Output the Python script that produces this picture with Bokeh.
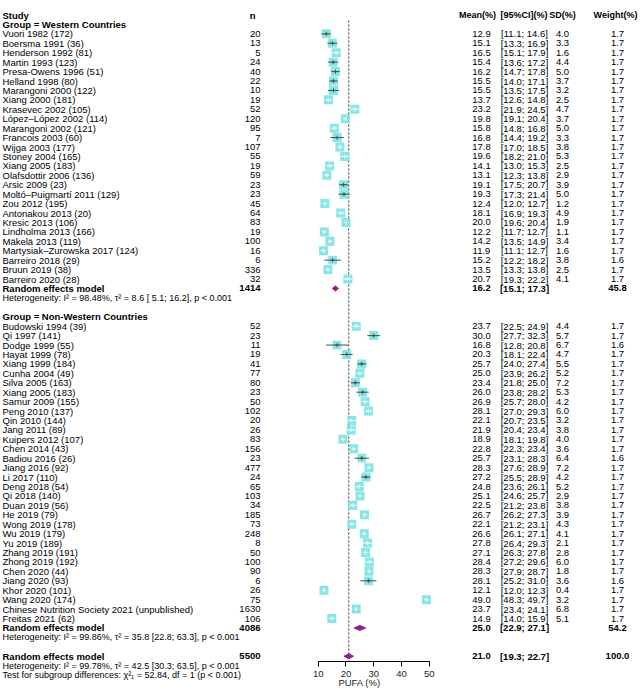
import math
from bokeh.plotting import figure
from bokeh.models import Range1d, FixedTicker, ColumnDataSource
from bokeh.layouts import row
from bokeh.embed import file_html
from bokeh.resources import INLINE
from bokeh.core.properties import value

# ---------------- data ----------------
west_study = ["Vuori 1982 (172)", "Boersma 1991 (36)", "Henderson 1992 (81)", "Martin 1993 (123)",
              "Presa-Owens 1996 (51)", "Helland 1998 (80)", "Marangoni 2000 (122)", "Xiang 2000 (181)",
              "Krasevec 2002 (105)", "López–López 2002 (114)", "Marangoni 2002 (121)", "Francois 2003 (60)",
              "Wijga 2003 (177)", "Stoney 2004 (165)", "Xiang 2005 (183)", "Olafsdottir 2006 (136)",
              "Arsic 2009 (23)", "Moltó–Puigmartí 2011 (129)", "Zou 2012 (195)", "Antonakou 2013 (20)",
              "Kresic 2013 (106)", "Lindholma 2013 (166)", "Mäkelä 2013 (119)",
              "Martysiak–Zurowska 2017 (124)", "Barreiro 2018 (29)", "Bruun 2019 (38)", "Barreiro 2020 (28)"]
west_n = [20, 13, 5, 24, 40, 22, 10, 19, 52, 120, 95, 7, 107, 55, 19, 59, 23, 23, 45, 64, 83, 19, 100, 16, 6, 336, 32]
west_mean = [12.9, 15.1, 16.5, 15.4, 16.2, 15.5, 15.5, 13.7, 23.2, 19.8, 15.8, 16.8, 17.8, 19.6, 14.1, 13.1,
             19.1, 19.3, 12.4, 18.1, 20.0, 12.2, 14.2, 11.9, 15.2, 13.5, 20.7]
west_lo = [11.1, 13.3, 15.1, 13.6, 14.7, 14.0, 13.5, 12.6, 21.9, 19.1, 14.8, 14.4, 17.0, 18.2, 13.0, 12.3,
           17.5, 17.3, 12.0, 16.9, 19.6, 11.7, 13.5, 11.1, 12.2, 13.3, 19.3]
west_hi = [14.6, 16.9, 17.9, 17.2, 17.8, 17.1, 17.5, 14.8, 24.5, 20.4, 16.8, 19.2, 18.5, 21.0, 15.3, 13.8,
           20.7, 21.4, 12.7, 19.3, 20.4, 12.7, 14.9, 12.7, 18.2, 13.8, 22.2]
west_sd = [4.0, 3.3, 1.6, 4.4, 5.0, 3.7, 3.2, 2.5, 4.7, 3.7, 5.0, 3.3, 3.8, 5.3, 2.5, 2.9,
           3.9, 5.0, 1.2, 4.9, 1.9, 1.1, 3.4, 1.6, 3.8, 2.5, 4.1]
west_weight = [1.7, 1.7, 1.7, 1.7, 1.7, 1.7, 1.7, 1.7, 1.7, 1.7, 1.7, 1.7, 1.7, 1.7, 1.7, 1.7,
               1.7, 1.7, 1.7, 1.7, 1.7, 1.7, 1.7, 1.7, 1.6, 1.7, 1.7]
west_pooled = [1414, 16.2, 15.1, 17.3, 45.8]   # n, mean, lo, hi, weight
west_het = "Heterogeneity: I² = 98.48%, τ² = 8.6 [ 5.1; 16.2], p < 0.001"

nonwest_study = ["Budowski 1994 (39)", "Qi 1997 (141)", "Dodge 1999 (55)", "Hayat 1999 (78)", "Xiang 1999 (184)",
                 "Cunha 2004 (49)", "Silva 2005 (163)", "Xiang 2005 (183)", "Samur 2009 (155)", "Peng 2010 (137)",
                 "Qin 2010 (144)", "Jang 2011 (89)", "Kuipers 2012 (107)", "Chen 2014 (43)", "Badiou 2016 (26)",
                 "Jiang 2016 (92)", "Li 2017 (110)", "Deng 2018 (54)", "Qi 2018 (140)", "Duan 2019 (56)",
                 "He 2019 (79)", "Wong 2019 (178)", "Wu 2019 (179)", "Yu 2019 (189)", "Zhang 2019 (191)",
                 "Zhong 2019 (192)", "Chen 2020 (44)", "Jiang 2020 (93)", "Khor 2020 (101)", "Wang 2020 (174)",
                 "Chinese Nutrition Society 2021 (unpublished)", "Freitas 2021 (62)"]
nonwest_n = [52, 23, 11, 19, 41, 77, 80, 23, 50, 102, 20, 26, 83, 156, 23, 477, 24, 65, 103, 34,
             185, 73, 248, 8, 50, 100, 90, 6, 26, 75, 1630, 106]
nonwest_mean = [23.7, 30.0, 16.8, 20.3, 25.7, 25.0, 23.4, 26.0, 26.9, 28.1, 22.1, 21.9, 18.9, 22.8, 25.7,
                28.3, 27.2, 24.8, 25.1, 22.5, 26.7, 22.1, 26.6, 27.8, 27.1, 28.4, 28.3, 28.1, 12.1, 49.0, 23.7, 14.9]
nonwest_lo = [22.5, 27.7, 12.8, 18.1, 24.0, 23.9, 21.8, 23.8, 25.7, 27.0, 20.7, 20.4, 18.1, 22.3, 23.1,
              27.6, 25.5, 23.6, 24.6, 21.2, 26.2, 21.2, 26.1, 26.4, 26.3, 27.2, 27.9, 25.2, 12.0, 48.3, 23.4, 14.0]
nonwest_hi = [24.9, 32.3, 20.8, 22.4, 27.4, 26.2, 25.0, 28.2, 28.0, 29.3, 23.5, 23.4, 19.8, 23.4, 28.3,
              28.9, 28.9, 26.1, 25.7, 23.8, 27.3, 23.1, 27.1, 29.3, 27.8, 29.6, 28.7, 31.0, 12.3, 49.7, 24.1, 15.9]
nonwest_sd = [4.4, 5.7, 6.7, 4.7, 5.5, 5.2, 7.2, 5.3, 4.2, 6.0, 3.2, 3.8, 4.0, 3.6, 6.4,
              7.2, 4.2, 5.2, 2.9, 3.8, 3.9, 4.3, 4.1, 2.1, 2.8, 6.0, 1.8, 3.6, 0.4, 3.2, 6.8, 5.1]
nonwest_weight = [1.7, 1.7, 1.6, 1.7, 1.7, 1.7, 1.7, 1.7, 1.7, 1.7, 1.7, 1.7, 1.7, 1.7, 1.6,
                  1.7, 1.7, 1.7, 1.7, 1.7, 1.7, 1.7, 1.7, 1.7, 1.7, 1.7, 1.7, 1.6, 1.7, 1.7, 1.7, 1.7]
nonwest_pooled = [4086, 25.0, 22.9, 27.1, 54.2]
nonwest_het = "Heterogeneity: I² = 99.86%, τ² = 35.8 [22.8; 63.3], p < 0.001"

overall_pooled = [5500, 21.0, 19.3, 22.7, 100.0]
overall_het = "Heterogeneity: I² = 99.78%, τ² = 42.5 [30.3; 63.5], p < 0.001"
subgroup_test = "Test for subgroup differences: χ²₁ = 52.84, df = 1 (p < 0.001)"

group_labels = ["Group = Western Countries", "Group = Non-Western Countries"]
headers = ["Study", "n", "Mean(%)", "[95%CI](%)", "SD(%)", "Weight(%)"]
x_ticks = [10, 20, 30, 40, 50]
x_title = "PUFA (%)"

# ---------------- layout constants ----------------
FONT = "Liberation Sans"
FS = "9.5px"
HFS = "9px"
PITCH = 9.43         # px per row
TOP = 14.5           # px of row 0 from top
H = 691
MID_FRAME_H = 661
Y_TOP = -TOP / PITCH
Y_BOT_FULL = (H - TOP) / PITCH
Y_BOT_MID = (MID_FRAME_H - TOP) / PITCH

PXU = 2.775          # px per % unit on the forest axis
X10 = 317.7          # screen x of value 10
L0, L1 = 0, 265      # left text panel (screen coords)
M0, M1 = 265, 453    # forest panel
R0, R1 = 453, 640    # right text panel
SQ = 9               # square size px

SQ_COLOR = "#7FE6E4"
DIA_COLOR = "#931E8C"
LINE_COLOR = "#4d4d4d"

# ---------------- row assignment ----------------
r = 0
header_row = r; r += 1
grp_w_row = r; r += 1
w_rows = list(range(r, r + len(west_study))); r += len(west_study)
re_w_row = r; r += 1
het_w_row = r; r += 2
grp_nw_row = r; r += 1
nw_rows = list(range(r, r + len(nonwest_study))); r += len(nonwest_study)
re_nw_row = r; r += 1
het_nw_row = r; r += 2
re_all_row = r; r += 1
het_all_row = r; r += 1
test_row = r


def txt(p, xs, ys, texts, align="left", bold=False, size=FS):
    src = ColumnDataSource(dict(x=list(xs), y=list(ys), t=list(texts)))
    p.text(x="x", y="y", text="t", source=src, text_font=value(FONT), text_font_size=value(size),
           text_align=align, text_baseline="middle", text_font_style="bold" if bold else "normal",
           text_color="black")


def text_fig(x0, x1):
    p = figure(frame_width=x1 - x0, frame_height=H, x_range=Range1d(x0, x1),
               y_range=Range1d(Y_BOT_FULL, Y_TOP), output_backend="svg", toolbar_location=None,
               x_axis_type=None, y_axis_type=None, min_border=0)
    p.outline_line_color = None
    return p


# ---------------- left panel ----------------
left = text_fig(L0, L1)
XS = 2
XN = 260
txt(left, [XS], [header_row], [headers[0]], bold=True)
txt(left, [255], [header_row], [headers[1]], align="right", bold=True)
txt(left, [XS, XS], [grp_w_row, grp_nw_row], group_labels, bold=True)
txt(left, [XS] * len(west_study), w_rows, west_study)
txt(left, [XN] * len(west_n), w_rows, [str(v) for v in west_n], align="right")
txt(left, [XS] * len(nonwest_study), nw_rows, nonwest_study)
txt(left, [XN] * len(nonwest_n), nw_rows, [str(v) for v in nonwest_n], align="right")
txt(left, [XS] * 3, [re_w_row, re_nw_row, re_all_row], ["Random effects model"] * 3, bold=True)
txt(left, [XN] * 3, [re_w_row, re_nw_row, re_all_row],
    [str(west_pooled[0]), str(nonwest_pooled[0]), str(overall_pooled[0])], align="right", bold=True)
txt(left, [XS] * 4, [het_w_row, het_nw_row, het_all_row, test_row],
    [west_het, nonwest_het, overall_het, subgroup_test], size=HFS)

# ---------------- forest panel ----------------
xa = 10 + (M0 - X10) / PXU
xb = 10 + (M1 - X10) / PXU
mid = figure(frame_width=M1 - M0, frame_height=MID_FRAME_H, x_range=Range1d(xa, xb),
             y_range=Range1d(Y_BOT_MID, Y_TOP), output_backend="svg", toolbar_location=None,
             y_axis_type=None, min_border=0)
mid.outline_line_color = None
mid.grid.visible = False
ax = mid.xaxis[0]
ax.ticker = FixedTicker(ticks=x_ticks)
ax.bounds = (x_ticks[0], x_ticks[-1])
ax.axis_line_color = "black"
ax.major_tick_line_color = "black"
ax.major_tick_out = 5
ax.major_tick_in = 0
ax.minor_tick_line_color = None
ax.major_label_standoff = 4
ax.major_label_text_font = FONT
ax.major_label_text_font_size = FS
ax.major_label_text_color = "#222222"
ax.axis_label = x_title
ax.axis_label_text_font = FONT
ax.axis_label_text_font_size = FS
ax.axis_label_text_font_style = "normal"
ax.axis_label_text_color = "#222222"
ax.axis_label_standoff = -3

# reference line at overall mean
mid.segment(x0=[overall_pooled[1]], y0=[grp_w_row - 0.42], x1=[overall_pooled[1]], y1=[Y_BOT_MID],
            line_color="#333333", line_width=1, line_dash="2 2")

all_mean = west_mean + nonwest_mean
all_lo = west_lo + nonwest_lo
all_hi = west_hi + nonwest_hi
all_w = west_weight + nonwest_weight
all_rows = w_rows + nw_rows
half = SQ / 2.0 / PXU
line_cols = ["white" if (m - lo) <= half * 0.95 and (hi - m) <= half * 0.95 else LINE_COLOR
             for m, lo, hi in zip(all_mean, all_lo, all_hi)]
sizes = [SQ * math.sqrt(w / 1.7) for w in all_w]
src = ColumnDataSource(dict(m=all_mean, lo=all_lo, hi=all_hi, y=all_rows, c=line_cols, s=sizes))
mid.scatter(x="m", y="y", size="s", marker="square", source=src, fill_color=SQ_COLOR,
            line_color=None, fill_alpha=0.95)
mid.segment(x0="lo", y0="y", x1="hi", y1="y", line_color="c", line_width=1, source=src)
mid.scatter(x="m", y="y", size=4, marker="cross", line_color="c", line_width=1, source=src)

dh = 0.27
pooled = [west_pooled, nonwest_pooled, overall_pooled]
prow = [re_w_row, re_nw_row, re_all_row]
dxs = [[p[2], p[1], p[3], p[1]] for p in pooled]
dys = [[y, y - dh, y, y + dh] for y in prow]
mid.patches(xs=dxs, ys=dys, fill_color=DIA_COLOR, line_color=DIA_COLOR, line_width=1)

# ---------------- right panel ----------------
right = text_fig(R0, R1)
txt(right, [477, 523.5, 562, 615], [header_row] * 4, headers[2:], align="center", bold=True, size="9px")
XM, XC, XSD, XW = 481, 524, 562, 617


def ci(lo, hi):
    return "[%4.1f; %4.1f]" % (lo, hi)


txt(right, [XM] * len(all_rows), all_rows, ["%.1f" % v for v in all_mean], align="center")
txt(right, [XC] * len(all_rows), all_rows, [ci(a, b) for a, b in zip(all_lo, all_hi)], align="center")
txt(right, [XSD] * len(all_rows), all_rows, ["%.1f" % v for v in west_sd + nonwest_sd], align="center")
txt(right, [XW] * len(all_rows), all_rows, ["%.1f" % v for v in all_w], align="center")
txt(right, [XM] * 3, prow, ["%.1f" % p[1] for p in pooled], align="center", bold=True)
txt(right, [XC] * 3, prow, [ci(p[2], p[3]) for p in pooled], align="center", bold=True)
txt(right, [XW] * 3, prow, ["%.1f" % p[4] for p in pooled], align="center", bold=True)

layout = row(left, mid, right, spacing=0)
open("out.html", "w").write(file_html(layout, INLINE))
